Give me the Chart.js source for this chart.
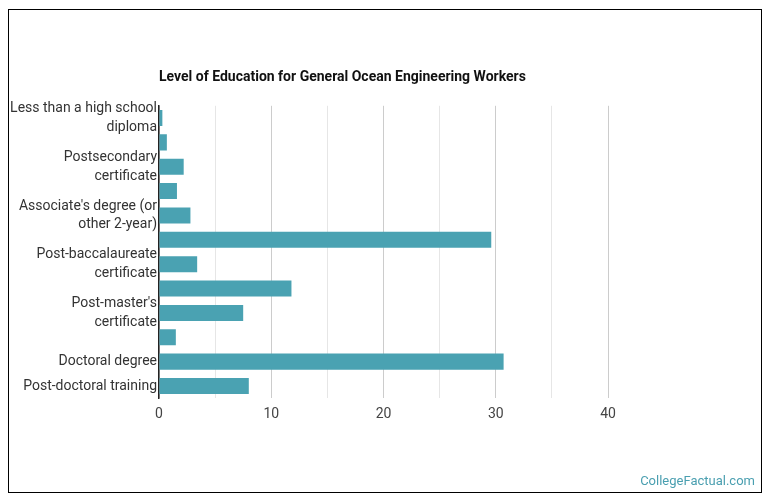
<!DOCTYPE html>
<html>
<head>
<meta charset="utf-8">
<script src="https://cdn.jsdelivr.net/npm/chart.js@4/dist/chart.umd.min.js"></script>
<style>
  body { margin: 0; background: #fff; }
  #box {
    position: absolute; left: 8px; top: 9px;
    width: 754px; height: 484px;
    border: 1px solid #000; box-sizing: border-box;
  }
  #wrap { position: absolute; left: 0; top: 0; width: 752px; height: 482px; }
  #credit {
    position: absolute; right: 6px; bottom: 4px;
    font: 13px Roboto, sans-serif; color: #4a9fb0;
  }
</style>
</head>
<body>
<div id="box">
  <div id="wrap"><canvas id="edu"></canvas></div>
  <div id="credit">CollegeFactual.com</div>
</div>
<script>
const categories = [
  'Less than a high school diploma',
  'High school diploma or equivalent',
  'Postsecondary certificate',
  'Some college courses',
  "Associate's degree (or other 2-year)",
  "Bachelor's degree",
  'Post-baccalaureate certificate',
  "Master's degree",
  "Post-master's certificate",
  'First professional degree',
  'Doctoral degree',
  'Post-doctoral training'
];
const shares = [0.3, 0.7, 2.2, 1.6, 2.8, 29.6, 3.4, 11.8, 7.5, 1.5, 30.7, 8.0];
const xTicks = [0, 10, 20, 30, 40];

// break a label into lines of at most 23 characters
function wrap(text) {
  const words = text.split(' ');
  const lines = [];
  let cur = '';
  words.forEach(w => {
    const next = cur ? cur + ' ' + w : w;
    if (next.length > 23 && cur) { lines.push(cur); cur = w; }
    else cur = next;
  });
  lines.push(cur);
  return lines;
}

const edu = document.querySelector('#edu');

new Chart(edu, {
  type: 'bar',
  data: {
    labels: categories,
    datasets: [{
      label: 'Share',
      data: shares,
      backgroundColor: '#4aa2b2',
      barPercentage: 0.66,
      categoryPercentage: 1
    }]
  },
  options: {
    indexAxis: 'y',
    responsive: true,
    maintainAspectRatio: false,
    animation: false,
    layout: { padding: { right: 153, bottom: 61 } },
    scales: {
      x: {
        min: 0,
        max: 40,
        border: { display: false },
        grid: {
          drawTicks: false,
          color: c => (c.tick && c.tick.value % 10 === 0) ? '#cccccc' : '#e6e6e6'
        },
        ticks: {
          stepSize: 5,
          padding: 8,
          color: '#444',
          font: { family: 'Roboto', size: 14 },
          callback: v => xTicks.includes(v) ? v : ''
        }
      },
      y: {
        afterFit: s => { s.width = 150; },
        border: { display: true, color: '#222', width: 1.5 },
        grid: { display: false, drawTicks: false },
        ticks: {
          autoSkip: false,
          padding: 2,
          color: '#333',
          font: { family: 'Roboto', size: 14, lineHeight: 1.35 },
          callback: function (v, i) {
            if (i % 2 === 0 || i === categories.length - 1) return wrap(categories[i]);
            return '';
          }
        }
      }
    },
    plugins: {
      legend: { display: false },
      tooltip: { enabled: false },
      title: {
        display: true,
        fullSize: false,
        align: 'start',
        text: 'Level of Education for General Ocean Engineering Workers',
        color: '#111',
        font: { family: 'Roboto', size: 14, weight: 'bold' },
        padding: { top: 59, bottom: 20 }
      }
    }
  }
});
</script>
</body>
</html>
